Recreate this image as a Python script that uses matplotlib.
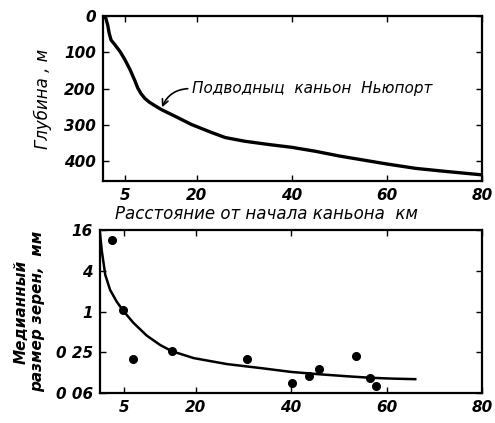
import numpy as np
import matplotlib
matplotlib.use("Agg")
import matplotlib.pyplot as plt
from matplotlib.ticker import FixedLocator, FixedFormatter, NullLocator

# depth profile of the canyon floor
dist_km = [0.4, 0.9, 1.3, 1.6, 2.0, 2.8, 3.9, 4.9, 6.0, 7.0, 7.6, 8.3, 9.1, 10.0, 11.2,
           12.6, 15.4, 18.9, 23.1, 26.0, 30.0, 35.0, 40.0, 45.0, 50.0, 55.0, 60.0,
           66.0, 72.0, 80.0]
depth_m = [0, 6, 25, 47, 66, 79, 98, 120, 148, 178, 198, 214, 227, 237, 247,
           258, 276, 299, 321, 335, 345, 354, 362, 373, 386, 397, 408,
           420, 428, 438]

# median grain size samples
sample_km = [2.5, 4.9, 7.0, 15.0, 30.8, 40.3, 43.7, 45.8, 53.5, 56.5, 57.7]
sample_mm = [11.5, 1.07, 0.20, 0.26, 0.20, 0.088, 0.11, 0.14, 0.22, 0.105, 0.079]

# smoothed trend through the grain sizes
trend_km = [0.0, 0.4, 1.1, 2.1, 3.5, 4.9, 7.0, 9.8, 12.6, 15.0, 19.6, 26.6, 33.6,
            40.0, 46.0, 52.0, 56.5, 61.0, 66.0]
trend_mm = [14.5, 7.7, 3.5, 2.1, 1.4, 1.02, 0.68, 0.44, 0.32, 0.26, 0.205, 0.167, 0.146,
            0.128, 0.118, 0.11, 0.105, 0.102, 0.1]

x_ticks = [5, 20, 40, 60, 80]
depth_ticks = [0, 100, 200, 300, 400]
size_ticks = [0.0625, 0.25, 1, 4, 16]
size_labels = ["0 06", "0 25", "1", "4", "16"]

plt.rcParams["font.family"] = ["DejaVu Sans"]
plt.rcParams["font.style"] = "italic"

fig = plt.figure(figsize=(4.95, 4.23), dpi=100)
ax1 = fig.add_axes([0.208, 0.572, 0.766, 0.390])
ax2 = fig.add_axes([0.202, 0.071, 0.772, 0.385])

for ax in (ax1, ax2):
    ax.tick_params(direction="in", top=True, right=True, length=4, width=1,
                   labelsize=11, pad=5)
    for s in ax.spines.values():
        s.set_linewidth(1.6)

# top panel
ax1.plot(dist_km, depth_m, color="black", lw=2.4, solid_capstyle="round",
         solid_joinstyle="round")
ax1.set_xlim(0.3, 80)
ax1.set_ylim(455, 0)
ax1.xaxis.set_major_locator(FixedLocator(x_ticks))
ax1.yaxis.set_major_locator(FixedLocator(depth_ticks))
ax1.set_xticklabels([str(v) for v in x_ticks], fontweight="bold")
ax1.set_yticklabels([str(v) for v in depth_ticks], fontweight="bold")
ax1.set_xlabel("Расстояние от начала каньона  км", fontsize=12)
ax1.xaxis.set_label_coords(0.43, -0.145)
ax1.set_ylabel("Глубина , м", fontsize=12, labelpad=9)
ax1.annotate("Подводныц  каньон  Ньюпорт", xy=(12.6, 255), xytext=(19.0, 200),
             fontsize=11, va="center", ha="left",
             arrowprops=dict(arrowstyle="->", lw=1.2, color="black",
                             connectionstyle="arc3,rad=0.35", relpos=(0, 0.5),
                             shrinkA=1, shrinkB=1))

# bottom panel
ax2.plot(trend_km, trend_mm, color="black", lw=1.8, solid_joinstyle="round")
ax2.plot(sample_km, sample_mm, "o", color="black", ms=5.5)
ax2.set_yscale("log")
ax2.set_xlim(0.0, 80)
ax2.set_ylim(0.0625, 16)
ax2.xaxis.set_major_locator(FixedLocator(x_ticks))
ax2.yaxis.set_major_locator(FixedLocator(size_ticks))
ax2.yaxis.set_minor_locator(NullLocator())
ax2.set_xticklabels([str(v) for v in x_ticks], fontweight="bold")
ax2.yaxis.set_major_formatter(FixedFormatter(size_labels))
for lab in ax2.get_yticklabels():
    lab.set_fontweight("bold")
ax2.set_ylabel("Медианный\nразмер зерен,  мм", fontsize=11, fontweight="bold",
               linespacing=1.1, labelpad=8)

fig.savefig("out.png", dpi=100)
